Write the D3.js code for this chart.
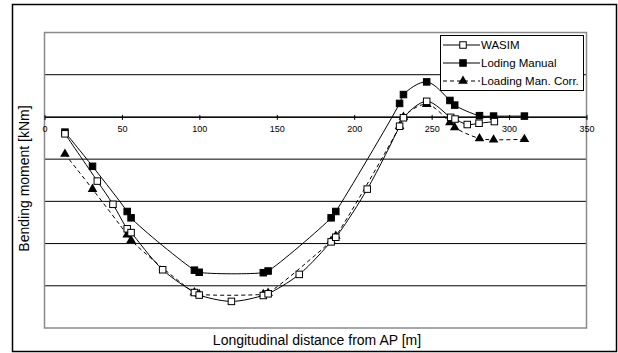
<!DOCTYPE html>
<html>
<head>
<meta charset="utf-8">
<script src="https://cdn.jsdelivr.net/npm/d3@7"></script>
<style>
    body { margin: 0; background: #ffffff; }
    svg { display: block; }
</style>
</head>
<body>
<div id="chart"></div>
<script>
// x positions [m] and bending moment (in grid steps, no y labels on the original)
var manualX = [13.2, 31.0, 53.4, 55.9, 96.8, 99.9, 141.3, 144.4, 185.1, 188.1, 229.3, 231.8, 246.8, 261.8, 264.9, 280.9, 290.0, 309.9];
var manualY = [-0.36, -1.17, -2.24, -2.39, -3.63, -3.68, -3.69, -3.65, -2.39, -2.24, 0.32, 0.53, 0.83, 0.39, 0.28, 0.03, 0.02, 0.02];
var corrY = [-0.88, -1.71, -2.79, -2.92, -4.16, -4.20, -4.20, -4.17, -2.94, -2.82, -0.22, 0.0, 0.30, -0.13, -0.25, -0.51, -0.54, -0.53];
var wasimX = [13.2, 34.1, 44.2, 53.4, 55.9, 76.3, 96.8, 99.9, 120.7, 141.3, 144.4, 164.5, 185.1, 188.1, 208.4, 229.3, 231.8, 246.8, 262.3, 265.1, 273.0, 280.6, 290.5];
var wasimY = [-0.40, -1.52, -2.07, -2.65, -2.74, -3.62, -4.16, -4.22, -4.37, -4.23, -4.19, -3.73, -2.96, -2.85, -1.71, -0.22, -0.02, 0.37, -0.01, -0.05, -0.18, -0.15, -0.11];

var xTicks = [0, 50, 100, 150, 200, 250, 300, 350];
var yGrid = [-5, -4, -3, -2, -1, 0, 1, 2];
var seriesNames = ['WASIM', 'Loding Manual', 'Loading Man. Corr.'];

var width = 618, height = 353;
var plotBox = {left: 44.5, right: 586.5, top: 32.5, bottom: 328};
var font = '"Liberation Sans", Arial, Helvetica, sans-serif';

var svg = d3.select('#chart').append('svg')
        .attr('width', width)
        .attr('height', height);

var x = d3.scaleLinear().domain([0, 350]).range([plotBox.left, plotBox.right]);
var y = d3.scaleLinear().domain([-5, 2]).range([plotBox.bottom, plotBox.top]);

// outer frame
svg.append('rect')
        .attr('x', 12.5).attr('y', 4.5)
        .attr('width', 604).attr('height', 347)
        .attr('fill', '#ffffff')
        .attr('stroke', '#000000')
        .attr('stroke-width', 1.5);

// horizontal grid
svg.append('g').selectAll('line')
        .data(yGrid.slice(1, -1))
        .enter().append('line')
        .attr('x1', plotBox.left).attr('x2', plotBox.right)
        .attr('y1', function(d){ return y(d); })
        .attr('y2', function(d){ return y(d); })
        .attr('stroke', '#000000')
        .attr('stroke-width', 1);

// plot area border
svg.append('rect')
        .attr('x', plotBox.left).attr('y', plotBox.top)
        .attr('width', plotBox.right - plotBox.left)
        .attr('height', plotBox.bottom - plotBox.top)
        .attr('fill', 'none')
        .attr('stroke', '#8a8a8a')
        .attr('stroke-width', 1.5);

// x axis along the zero line, ticks crossing it
var xAxis = d3.axisBottom(x)
        .tickValues(xTicks)
        .tickSizeInner(3)
        .tickSizeOuter(0)
        .tickPadding(6);

var axisG = svg.append('g')
        .attr('transform', 'translate(0,' + y(0) + ')')
        .call(xAxis);
axisG.select('.domain').attr('stroke', '#000000');
axisG.selectAll('.tick line')
        .attr('y1', -2)
        .attr('y2', 3)
        .attr('stroke', '#000000');
axisG.selectAll('.tick text')
        .style('font', '9px ' + font)
        .attr('fill', '#000000');

// series lines
var curve = d3.curveCatmullRom.alpha(0.5);
var line = d3.line()
        .x(function(d){ return x(d[0]); })
        .y(function(d){ return y(d[1]); })
        .curve(curve);

var wasimPts = d3.zip(wasimX, wasimY);
var manualPts = d3.zip(manualX, manualY);
var corrPts = d3.zip(manualX, corrY);

var lines = svg.append('g').attr('fill', 'none').attr('stroke', '#000000').attr('stroke-width', 1);
lines.append('path').attr('d', line(corrPts)).attr('stroke-dasharray', '4,3');
lines.append('path').attr('d', line(wasimPts));
lines.append('path').attr('d', line(manualPts));

var sq = 6.5;
var triPath = d3.symbol().type(d3.symbolTriangle).size(40);

var drawSquares = function(g, pts, filled){
    g.selectAll(null)
            .data(pts)
            .enter().append('rect')
            .attr('x', function(d){ return x(d[0]) - sq / 2; })
            .attr('y', function(d){ return y(d[1]) - sq / 2; })
            .attr('width', sq)
            .attr('height', sq)
            .attr('fill', filled ? '#000000' : '#ffffff')
            .attr('stroke', '#000000')
            .attr('stroke-width', 1);
};

var marks = svg.append('g');
drawSquares(marks, manualPts, true);
marks.selectAll(null)
        .data(corrPts)
        .enter().append('path')
        .attr('d', triPath)
        .attr('transform', function(d){ return 'translate(' + x(d[0]) + ',' + y(d[1]) + ')'; })
        .attr('fill', '#000000');
drawSquares(marks, wasimPts, false);

// legend
var legend = svg.append('g');
legend.append('rect')
        .attr('x', 440.5).attr('y', 35.5)
        .attr('width', 143).attr('height', 55)
        .attr('fill', '#ffffff')
        .attr('stroke', '#000000')
        .attr('stroke-width', 1);

var rowY = [45, 63, 81];
seriesNames.forEach(function(name, i){
    var ly = rowY[i];
    legend.append('line')
            .attr('x1', 443).attr('x2', 480)
            .attr('y1', ly).attr('y2', ly)
            .attr('stroke', '#000000')
            .attr('stroke-dasharray', i == 2 ? '4,3' : null);
    if (i == 2) {
        legend.append('path')
                .attr('d', triPath)
                .attr('transform', 'translate(463,' + ly + ')')
                .attr('fill', '#000000');
    } else {
        legend.append('rect')
                .attr('x', 463 - sq / 2).attr('y', ly - sq / 2)
                .attr('width', sq).attr('height', sq)
                .attr('fill', i == 0 ? '#ffffff' : '#000000')
                .attr('stroke', '#000000');
    }
    legend.append('text')
            .attr('x', 481)
            .attr('y', ly + 4)
            .style('font', '11.5px ' + font)
            .text(name);
});

// axis titles
svg.append('text')
        .attr('x', 317)
        .attr('y', 345)
        .attr('text-anchor', 'middle')
        .style('font', '14px ' + font)
        .text('Longitudinal distance from AP [m]');

svg.append('text')
        .attr('text-anchor', 'middle')
        .attr('transform', 'translate(28.5,178.5)rotate(270)')
        .style('font', '14px ' + font)
        .text('Bending moment [kNm]');
</script>
</body>
</html>
